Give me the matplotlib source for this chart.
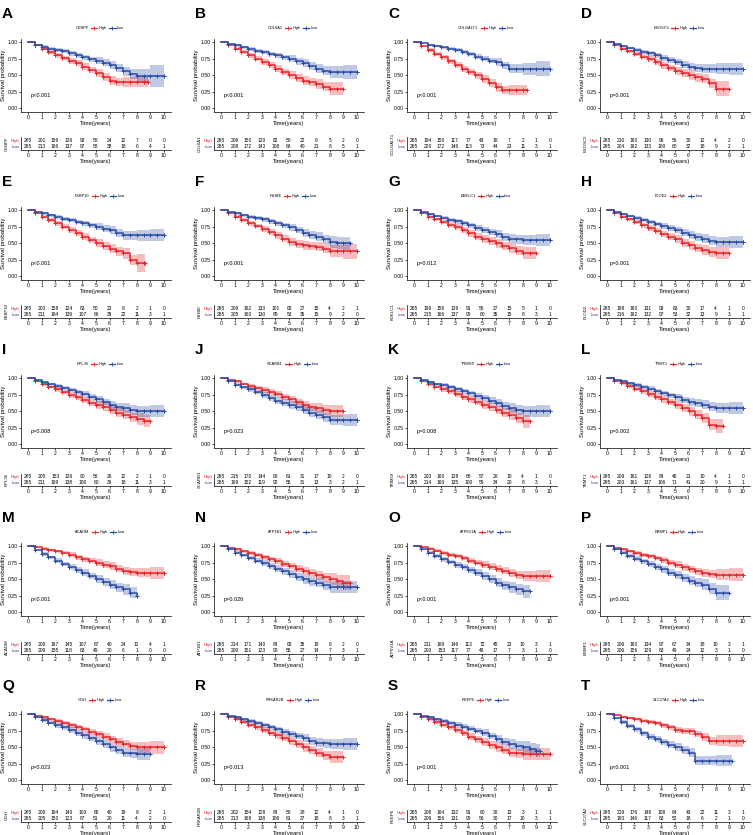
import matplotlib.pyplot as plt
import numpy as np
from matplotlib.lines import Line2D

plt.rcParams['font.family'] = ['Liberation Sans', 'DejaVu Sans']

# panel letters, genes and p values
letters = list("ABCDEFGHIJKLMNOPQRST")
genes = ["CENPF", "COL6A1", "COLGALT1", "EXOSC5", "FKBP10", "INHBE", "KDELC1", "PLOD2",
         "RPL36", "SCARB1", "TRIM59", "TRMT1", "ACADM", "ATP1B1", "ATP6V1A", "ERMP1",
         "GGH", "PRKAR2B", "REEP6", "SLC27A2"]
pvals = ["p<0.001", "p<0.001", "p<0.001", "p=0.001", "p<0.001", "p<0.001", "p=0.012", "p=0.001",
         "p=0.008", "p=0.023", "p=0.008", "p=0.002", "p<0.001", "p=0.026", "p<0.001", "p<0.001",
         "p=0.023", "p=0.013", "p=0.001", "p<0.001"]

# survival estimates every half year (t = 0, 0.5, 1, ...), and last follow-up time
high_surv = [
    [1, .95, .90, .85, .80, .76, .72, .68, .63, .58, .53, .47, .42, .40, .40, .40, .40, .40],
    [1, .95, .90, .85, .80, .75, .70, .65, .60, .55, .50, .46, .42, .40, .37, .33, .30, .30],
    [1, .94, .88, .82, .77, .71, .65, .60, .55, .50, .45, .38, .32, .28, .28, .28, .28],
    [1, .95, .90, .86, .82, .78, .74, .70, .65, .61, .57, .53, .50, .47, .45, .38, .30, .30],
    [1, .95, .90, .85, .80, .75, .70, .65, .60, .55, .50, .46, .42, .38, .35, .25, .20, .20],
    [1, .95, .90, .85, .80, .76, .72, .67, .62, .57, .52, .49, .47, .46, .45, .42, .38, .38, .38, .38, .38],
    [1, .95, .90, .86, .82, .78, .74, .70, .65, .60, .56, .53, .50, .46, .43, .39, .35, .35],
    [1, .95, .90, .86, .82, .77, .73, .68, .64, .60, .56, .51, .47, .43, .40, .37, .35, .35],
    [1, .95, .91, .87, .83, .79, .75, .71, .67, .63, .60, .56, .52, .48, .45, .41, .38, .35],
    [1, .97, .95, .91, .88, .85, .82, .79, .76, .72, .68, .64, .60, .57, .55, .52, .50, .50],
    [1, .95, .91, .87, .83, .80, .76, .72, .68, .64, .60, .56, .52, .48, .45, .40, .35],
    [1, .96, .92, .88, .84, .80, .76, .72, .68, .64, .60, .55, .50, .45, .40, .30, .28],
    [1, .98, .96, .94, .92, .90, .87, .83, .80, .78, .75, .72, .70, .66, .63, .61, .60, .60, .60, .60, .60],
    [1, .97, .95, .92, .89, .86, .83, .80, .77, .73, .70, .66, .63, .60, .56, .53, .50, .47, .45, .45],
    [1, .98, .96, .93, .90, .87, .85, .82, .78, .75, .72, .69, .66, .63, .60, .57, .55, .55, .55, .55, .55],
    [1, .97, .95, .92, .90, .87, .85, .82, .79, .75, .72, .68, .65, .62, .60, .58, .57, .57, .57, .57, .57],
    [1, .97, .95, .92, .89, .86, .83, .80, .77, .73, .70, .66, .62, .58, .55, .52, .50, .50, .50, .50, .50],
    [1, .96, .92, .88, .84, .80, .76, .72, .68, .64, .60, .55, .50, .46, .42, .38, .35, .35],
    [1, .96, .92, .88, .84, .80, .76, .71, .66, .62, .58, .54, .50, .46, .42, .41, .40, .40, .40, .40, .40],
    [1, .98, .96, .94, .92, .90, .88, .86, .83, .80, .76, .75, .74, .70, .66, .60, .60, .60, .60, .60, .60],
]
high_end = [8.8, 9.0, 8.3, 9.0, 8.6, 10, 9.0, 9.0, 9.0, 9.0, 8.5, 8.5, 10, 9.5, 10, 10, 10, 9.0, 10, 10]

low_surv = [
    [1, .96, .93, .90, .88, .86, .83, .80, .77, .74, .72, .69, .66, .61, .56, .52, .49, .49, .49, .49, .49],
    [1, .97, .95, .92, .90, .87, .85, .82, .80, .77, .75, .71, .68, .64, .60, .57, .55, .55, .55, .55, .55],
    [1, .98, .96, .94, .92, .90, .88, .85, .82, .78, .75, .72, .70, .65, .60, .60, .60, .60, .60, .60, .60],
    [1, .97, .94, .91, .88, .85, .83, .80, .76, .73, .70, .66, .63, .61, .60, .60, .60, .60, .60, .60, .60],
    [1, .97, .95, .92, .90, .87, .85, .82, .80, .77, .75, .72, .70, .66, .62, .62, .62, .62, .62, .62, .62],
    [1, .97, .95, .92, .90, .88, .86, .83, .80, .77, .74, .70, .66, .63, .60, .56, .52, .50, .50, .50],
    [1, .97, .94, .91, .88, .85, .83, .80, .77, .73, .70, .67, .64, .60, .57, .56, .55, .55, .55, .55, .55],
    [1, .97, .94, .91, .88, .85, .82, .79, .76, .73, .70, .66, .63, .60, .57, .54, .52, .52, .52, .52, .52],
    [1, .97, .94, .91, .88, .85, .82, .79, .76, .72, .68, .64, .60, .57, .55, .52, .50, .50, .50, .50, .50],
    [1, .95, .90, .86, .83, .79, .75, .70, .66, .63, .60, .56, .52, .48, .45, .41, .37, .37, .37, .37, .37],
    [1, .97, .94, .91, .89, .86, .83, .80, .77, .73, .70, .66, .62, .58, .55, .52, .50, .50, .50, .50, .50],
    [1, .97, .95, .92, .90, .87, .84, .80, .77, .74, .71, .67, .64, .62, .60, .57, .55, .55, .55, .55, .55],
    [1, .94, .88, .83, .78, .73, .68, .64, .60, .55, .50, .46, .42, .38, .35, .30, .25],
    [1, .95, .90, .86, .82, .78, .74, .70, .66, .62, .58, .54, .50, .47, .45, .41, .38, .38, .38, .38, .38],
    [1, .95, .90, .85, .80, .76, .72, .68, .64, .60, .55, .50, .45, .41, .38, .35, .32],
    [1, .95, .90, .85, .81, .77, .73, .69, .65, .60, .56, .52, .48, .45, .42, .36, .30, .30],
    [1, .95, .91, .87, .83, .80, .76, .72, .68, .64, .60, .55, .50, .46, .42, .41, .40, .40],
    [1, .97, .95, .92, .89, .86, .83, .80, .77, .73, .70, .67, .64, .60, .57, .56, .55, .55, .55, .55, .55],
    [1, .97, .95, .92, .90, .87, .84, .81, .78, .75, .72, .67, .62, .58, .55, .52, .50, .47, .45],
    [1, .94, .88, .82, .77, .71, .66, .62, .58, .54, .50, .46, .42, .30, .30, .30, .30, .30, .30],
]
low_end = [10, 10, 10, 10, 10, 9.5, 10, 10, 10, 10, 10, 10, 8.0, 10, 8.5, 9.0, 9.0, 10, 9.3, 9.2]

# half width of the 95% band, one value per year (0..10)
high_ci = [
    [0, .025, .035, .045, .05, .06, .065, .07, .08, .09, .09],
    [0, .025, .035, .045, .05, .06, .065, .07, .10, .11, .11],
    [0, .025, .035, .045, .05, .06, .065, .07, .08, .08, .08],
    [0, .025, .035, .045, .05, .06, .065, .07, .11, .11, .11],
    [0, .025, .035, .045, .05, .06, .065, .08, .14, .14, .14],
    [0, .025, .035, .045, .05, .06, .065, .07, .09, .11, .11],
    [0, .025, .035, .045, .05, .06, .065, .07, .09, .09, .09],
    [0, .025, .035, .045, .05, .06, .065, .07, .09, .09, .09],
    [0, .025, .035, .045, .05, .06, .065, .07, .09, .09, .09],
    [0, .02, .03, .04, .045, .05, .06, .07, .09, .11, .11],
    [0, .025, .035, .045, .05, .06, .065, .08, .10, .10, .10],
    [0, .025, .035, .045, .05, .06, .065, .08, .10, .10, .10],
    [0, .02, .025, .035, .04, .05, .055, .06, .07, .09, .09],
    [0, .02, .03, .04, .045, .05, .06, .07, .09, .11, .11],
    [0, .02, .03, .035, .04, .05, .055, .06, .07, .09, .09],
    [0, .02, .03, .035, .04, .05, .055, .06, .08, .10, .10],
    [0, .02, .03, .035, .04, .05, .055, .06, .08, .10, .10],
    [0, .025, .035, .045, .05, .06, .065, .07, .09, .09, .09],
    [0, .025, .035, .045, .05, .06, .065, .07, .09, .09, .09],
    [0, .015, .025, .03, .04, .045, .05, .06, .08, .09, .09],
]
low_ci = [
    [0, .02, .03, .035, .04, .05, .06, .07, .11, .16, .16],
    [0, .02, .03, .035, .04, .05, .06, .07, .09, .11, .11],
    [0, .015, .025, .03, .035, .04, .055, .07, .09, .11, .11],
    [0, .02, .03, .035, .04, .05, .06, .07, .08, .09, .09],
    [0, .02, .03, .035, .04, .05, .06, .07, .08, .09, .09],
    [0, .02, .03, .035, .04, .05, .06, .07, .09, .10, .10],
    [0, .02, .03, .035, .04, .05, .06, .07, .08, .09, .09],
    [0, .02, .03, .035, .04, .05, .06, .07, .08, .09, .09],
    [0, .02, .03, .035, .04, .05, .06, .07, .08, .09, .09],
    [0, .025, .035, .045, .05, .06, .065, .07, .08, .09, .09],
    [0, .02, .03, .035, .04, .05, .06, .07, .08, .09, .09],
    [0, .02, .03, .035, .04, .05, .06, .07, .08, .09, .09],
    [0, .025, .035, .045, .05, .06, .065, .08, .11, .11, .11],
    [0, .025, .035, .045, .05, .06, .065, .07, .08, .09, .09],
    [0, .025, .035, .045, .05, .06, .065, .08, .10, .10, .10],
    [0, .025, .035, .045, .05, .06, .065, .08, .11, .11, .11],
    [0, .025, .035, .045, .05, .06, .065, .07, .09, .09, .09],
    [0, .02, .03, .035, .04, .05, .06, .07, .08, .09, .09],
    [0, .02, .03, .035, .04, .05, .06, .07, .09, .10, .10],
    [0, .025, .035, .045, .05, .06, .065, .07, .08, .08, .08],
]

# numbers at risk, years 0..10
high_risk = [
    [265, 201, 156, 126, 93, 58, 24, 12, 7, 0, 0],
    [265, 206, 150, 120, 82, 50, 22, 9, 5, 2, 0],
    [265, 194, 150, 117, 77, 43, 18, 7, 2, 1, 0],
    [265, 210, 160, 130, 96, 56, 30, 12, 4, 2, 0],
    [265, 203, 158, 124, 83, 50, 23, 8, 2, 1, 0],
    [265, 209, 162, 133, 101, 63, 27, 15, 4, 2, 1],
    [265, 199, 156, 126, 91, 56, 27, 15, 5, 1, 0],
    [265, 198, 160, 131, 93, 63, 30, 17, 4, 1, 0],
    [265, 205, 153, 126, 90, 56, 26, 12, 2, 1, 0],
    [265, 215, 170, 144, 98, 61, 31, 17, 10, 2, 0],
    [265, 203, 160, 128, 86, 57, 28, 10, 4, 1, 0],
    [265, 209, 161, 126, 84, 46, 21, 10, 4, 1, 0],
    [265, 208, 167, 145, 107, 67, 40, 24, 12, 4, 1],
    [265, 214, 171, 140, 84, 63, 35, 18, 6, 2, 0],
    [265, 211, 169, 146, 113, 72, 45, 23, 10, 3, 1],
    [265, 206, 160, 134, 97, 67, 34, 18, 10, 3, 1],
    [265, 208, 164, 140, 103, 65, 40, 19, 8, 2, 1],
    [265, 202, 154, 128, 84, 58, 28, 12, 4, 1, 0],
    [265, 208, 164, 132, 91, 60, 30, 13, 3, 1, 1],
    [265, 219, 176, 146, 108, 64, 43, 22, 11, 3, 1],
]
low_risk = [
    [265, 213, 166, 137, 97, 58, 38, 18, 6, 4, 1],
    [265, 208, 172, 143, 108, 66, 40, 21, 8, 5, 1],
    [265, 220, 172, 146, 113, 73, 44, 23, 11, 3, 1],
    [265, 204, 162, 133, 100, 60, 32, 18, 9, 2, 1],
    [265, 211, 164, 139, 107, 66, 39, 22, 11, 3, 1],
    [265, 205, 160, 130, 89, 53, 35, 15, 9, 2, 0],
    [265, 215, 166, 137, 99, 60, 35, 15, 8, 3, 1],
    [265, 216, 162, 132, 97, 53, 32, 13, 9, 3, 1],
    [265, 211, 169, 138, 100, 60, 36, 18, 11, 3, 1],
    [265, 199, 152, 119, 92, 55, 31, 13, 3, 2, 1],
    [265, 214, 160, 135, 100, 59, 34, 20, 8, 3, 1],
    [265, 203, 161, 137, 106, 71, 41, 20, 9, 3, 1],
    [265, 209, 155, 118, 83, 49, 20, 6, 1, 0, 0],
    [265, 200, 151, 123, 98, 55, 27, 14, 7, 3, 1],
    [265, 203, 153, 117, 77, 46, 17, 7, 3, 1, 0],
    [265, 206, 156, 129, 83, 49, 24, 12, 3, 1, 0],
    [265, 205, 150, 123, 87, 51, 20, 11, 4, 2, 0],
    [265, 213, 168, 138, 106, 61, 37, 18, 8, 3, 1],
    [265, 209, 156, 131, 99, 56, 30, 17, 10, 3, 1],
    [265, 193, 146, 117, 83, 52, 18, 6, 2, 1, 0],
]

years = list(range(11))
RED = "#E8262A"
BLUE = "#2B4DA6"
W, H = 753, 835
COLW, ROWH = 193, 168

fig = plt.figure(figsize=(W / 100, H / 100), dpi=100)


def rect(ox, oy, x0, y0, x1, y1):
    return [(ox + x0) / W, 1 - (oy + y1) / H, (x1 - x0) / W, (y1 - y0) / H]


def draw_curve(ax, surv, end, ci, color):
    s = np.array(surv, dtype=float)
    t = np.arange(len(s)) * 0.5
    tt = np.append(t, end)
    ss = np.append(s, s[-1])
    hw = np.array([ci[int(x)] for x in tt])
    lo = np.clip(ss - hw, 0, 1)
    hi = np.clip(ss + hw, 0, 1)
    ax.fill_between(tt, lo, hi, step='post', color=color, alpha=0.3, lw=0)
    ax.step(tt, ss, where='post', color=color, lw=1.1)
    ax.plot(tt[1:], ss[1:], ls='none', marker='+', ms=2.8, mew=0.7, color=color)


def style_axis(ax):
    for side in ['top', 'right']:
        ax.spines[side].set_visible(False)
    for side in ['left', 'bottom']:
        ax.spines[side].set_linewidth(0.5)
    ax.tick_params(length=1.5, width=0.5, pad=1, labelsize=3.7)


for i in range(20):
    r, c = divmod(i, 4)
    ox, oy = c * COLW, r * ROWH

    fig.text((ox + 2) / W, 1 - (oy + 14) / H, letters[i], fontsize=11,
             fontweight='bold', ha='left', va='center')

    ax = fig.add_axes(rect(ox, oy, 21.2, 38.7, 170.8, 111.8))
    draw_curve(ax, high_surv[i], high_end[i], high_ci[i], RED)
    draw_curve(ax, low_surv[i], low_end[i], low_ci[i], BLUE)
    ax.set_xlim(-0.5, 10.5)
    ax.set_ylim(-0.05, 1.05)
    ax.set_xticks(years)
    ax.set_yticks([0, 0.25, 0.5, 0.75, 1.0])
    ax.set_yticklabels(['0.00', '0.25', '0.50', '0.75', '1.00'])
    style_axis(ax)
    ax.set_xlabel('Time(years)', fontsize=4.2, labelpad=0.5)
    ax.set_ylabel('Survival probability', fontsize=4.4, labelpad=1)
    ax.text(0.2, 0.19, pvals[i], fontsize=4, ha='left', va='center')

    handles = [Line2D([], [], color='none'),
               Line2D([], [], color=RED, lw=0.9, marker='+', ms=2.5, mew=0.6),
               Line2D([], [], color=BLUE, lw=0.9, marker='+', ms=2.5, mew=0.6)]
    fig.legend(handles, [genes[i], 'High', 'Low'], ncol=3, loc='center',
               bbox_to_anchor=((ox + 96) / W, 1 - (oy + 28) / H),
               fontsize=2.8, frameon=False, handlelength=1.6, handletextpad=0.4,
               columnspacing=0.6, borderpad=0)

    tb = fig.add_axes(rect(ox, oy, 21.2, 137.5, 170.8, 149.5))
    tb.set_xlim(-0.5, 10.5)
    tb.set_ylim(0, 1)
    for x, hv, lv in zip(years, high_risk[i], low_risk[i]):
        tb.text(x, 0.74, str(hv), fontsize=3.5, ha='center', va='center')
        tb.text(x, 0.28, str(lv), fontsize=3.5, ha='center', va='center')
    tb.set_xticks(years)
    tb.set_yticks([0.74, 0.28])
    tb.set_yticklabels(['High', 'Low'])
    style_axis(tb)
    tb.tick_params(axis='y', length=0, labelsize=3.2)
    tb.get_yticklabels()[0].set_color(RED)
    tb.get_yticklabels()[1].set_color(BLUE)
    tb.set_xlabel('Time(years)', fontsize=4.2, labelpad=0.5)
    tb.set_ylabel(genes[i], fontsize=3.1, labelpad=1.5)

fig.savefig('out.png', dpi=100)
